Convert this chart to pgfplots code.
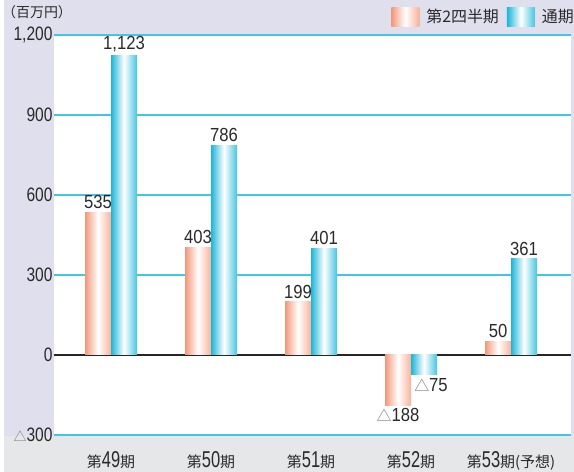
\documentclass[border=0pt]{standalone}
\usepackage{pgfplots}
\pgfplotsset{compat=1.18}
\usepackage{fontspec}
\setmainfont[FakeStretch=0.8]{Liberation Sans}
\newfontfamily\valfont[FakeStretch=0.88]{Liberation Sans}
\newfontfamily\xfont[FakeStretch=0.72]{Liberation Sans}
\newfontfamily\cjk{Noto Sans CJK JP}
\definecolor{lav}{HTML}{E0DFEE}
\definecolor{bggray}{HTML}{E6E7E9}
\definecolor{gridcyan}{HTML}{45C4E6}
\definecolor{txt}{HTML}{2A2A2A}
\definecolor{orL}{HTML}{F3977A}
\definecolor{orR}{HTML}{F7B29A}
\definecolor{blL}{HTML}{1CB6D8}
\definecolor{blR}{HTML}{45C5E2}
\newcommand\xl[2]{{\cjk\fontsize{15}{15}\selectfont 第}{\xfont\fontsize{23}{23}\selectfont #1}{\cjk\fontsize{15}{15}\selectfont 期#2}}
\newcommand\tri[1]{{\cjk\color{black!55}\fontsize{#1}{#1}\selectfont △}}
\begin{document}
\begin{tikzpicture}[x=1bp,y=1bp]
\useasboundingbox (0,0) rectangle (574,472);
\fill[lav] (0,0) rectangle (574,472);
\fill[white] (0,0) rectangle (4,472);
\fill[bggray] (4,0) rectangle (574,36);
\node[anchor=north west, inner sep=0, font=\cjk\fontsize{14}{14}\selectfont, text=txt] at (2,467) {（百万円）};
\begin{axis}[
  at={(54bp,37bp)}, anchor=south west, scale only axis,
  width=517bp, height=400bp,
  xmin=-0.57, xmax=4.6, ymin=-300, ymax=1200,
  axis background/.style={fill=white},
  axis line style={draw=none}, tick style={draw=none},
  ytick={-300,300,600,900,1200},
  yticklabels={\tri{13}300,300,600,900,{1,200}},
  extra y ticks={0}, extra y tick labels={0},
  extra y tick style={grid style={black!85, line width=1.3bp}},
  ymajorgrids, grid style={gridcyan, line width=1.8bp},
  yticklabel style={font=\fontsize{19.5}{19.5}\selectfont, text=txt, xshift=2bp},
  xtick={0,1,2,3,4},
  xticklabels={\xl{49}{},\xl{50}{},\xl{51}{},\xl{52}{},\xl{53}{(予想)}},
  xticklabel style={anchor=base, yshift=-28bp, text=txt},
  ybar=0pt, bar width=26bp,
  nodes near coords, point meta=explicit symbolic,
  every node near coord/.append style={font=\valfont\fontsize{19}{19}\selectfont, text=txt},
  orbar/.style={draw=none, bar shift=-13bp, left color=orL, right color=orR, middle color=white},
  blbar/.style={draw=none, bar shift=13bp, left color=blL, right color=blR, middle color=white},
  neg/.style={every node near coord/.append style={anchor=north}},
  legend style={at={(1,1)}, anchor=east, xshift=3bp, yshift=18bp, draw=none, fill=none,
    inner sep=0pt, legend columns=2, font=\cjk\fontsize{16}{16}\selectfont, text=txt,
    nodes={inner sep=0pt},
    /tikz/every odd column/.append style={column sep=7bp},
    /tikz/every even column/.append style={column sep=8bp}},
  legend image code/.code={\path[#1,draw=none] (0bp,-9.5bp) rectangle (28bp,9.5bp);},
]
\addplot[orbar] coordinates {(0,535)[535]};
\addplot[blbar] coordinates {(0,1123)[{1,123}]};
\addplot[orbar, forget plot] coordinates {(1,403)[403]};
\addplot[blbar, forget plot] coordinates {(1,786)[786]};
\addplot[orbar, forget plot] coordinates {(2,199)[199]};
\addplot[blbar, forget plot] coordinates {(2,401)[401]};
\addplot[orbar, forget plot, neg] coordinates {(3,-188)[\tri{15}188]};
\addplot[blbar, forget plot, neg, every node near coord/.append style={xshift=7bp}] coordinates {(3,-75)[\tri{15}75]};
\addplot[orbar, forget plot] coordinates {(4,50)[50]};
\addplot[blbar, forget plot] coordinates {(4,361)[361]};
\legend{第2四半期,通期}
\end{axis}
\end{tikzpicture}
\end{document}
